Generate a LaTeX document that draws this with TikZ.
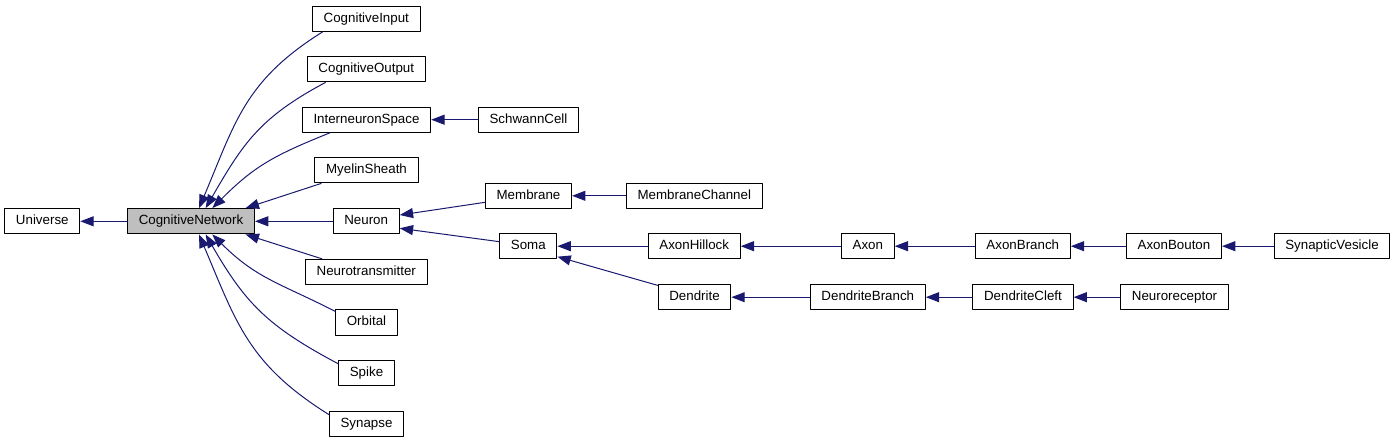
\documentclass[tikz,border=0pt]{standalone}
\usepackage{fontspec}
\setmainfont{Liberation Sans}
\usepackage{xcolor}
\usetikzlibrary{arrows}
\usetikzlibrary{arrows.meta,calc}
\definecolor{edgeblue}{HTML}{191970}
\definecolor{boxgray}{HTML}{BFBFBF}

\begin{document}
\begin{tikzpicture}[line cap=round,line join=round,>={Triangle[length=10pt,width=7.5pt]},x=0.75pt,y=0.75pt,
        box/.style={draw=black,line width=0.75pt,fill=white,minimum height=19pt,inner xsep=8.4pt,inner ysep=0pt,
            text height=7.2pt,text depth=2.1pt,font=\fontsize{10}{12}\selectfont},
        edge/.style={<-,draw=edgeblue,line width=0.75pt}]
                \useasboundingbox (0,0) rectangle (1397,443);
                % classes
                \node [box] (un) at (42.3,221.7) {Universe};
                \node [box,fill=boxgray] (cn) at (191,221.7) {CognitiveNetwork};
                \node [box] (ci) at (366.3,424.3) {CognitiveInput};
                \node [box] (co) at (366.3,373.7) {CognitiveOutput};
                \node [box] (is) at (366.5,323.3) {InterneuronSpace};
                \node [box] (ms) at (366.5,272.7) {MyelinSheath};
                \node [box] (ne) at (366.2,221.7) {Neuron};
                \node [box] (nt) at (366.3,171) {Neurotransmitter};
                \node [box] (or) at (366.5,120.5) {Orbital};
                \node [box] (sp) at (366.5,69.7) {Spike};
                \node [box] (sy) at (366.5,19) {Synapse};
                \node [box] (sc) at (528.5,323.3) {SchwannCell};
                \node [box] (me) at (528.5,247.2) {Membrane};
                \node [box] (mc) at (694.3,247.2) {MembraneChannel};
                \node [box] (so) at (528.3,196.8) {Soma};
                \node [box] (ah) at (694.2,196.8) {AxonHillock};
                \node [box] (de) at (694.5,145.8) {Dendrite};
                \node [box] (ax) at (867.8,196.8) {Axon};
                \node [box] (db) at (867.8,145.8) {DendriteBranch};
                \node [box] (ab) at (1022.8,196.8) {AxonBranch};
                \node [box] (dc) at (1023,145.8) {DendriteCleft};
                \node [box] (abo) at (1174,196.8) {AxonBouton};
                \node [box] (nr) at (1174.5,145.8) {Neuroreceptor};
                \node [box] (sv) at (1332,196.8) {SynapticVesicle};
                % inheritance
                \draw [edge] (un.east) -- (cn.west);
                \draw [edge] ([xshift=6pt]cn.north) to[out=67,in=212,looseness=1.1] ([xshift=8pt]ci.south west);
                \draw [edge] ([xshift=11pt]cn.north) to[out=60,in=208,looseness=1.1] ([xshift=14pt]co.south west);
                \draw [edge] ([xshift=16pt]cn.north) to[out=45,in=202,looseness=1.1] ([xshift=21pt]is.south west);
                \draw [edge] ([xshift=-7pt]cn.north east) -- ([xshift=5pt]ms.south west);
                \draw [edge] (cn.east) -- (ne.west);
                \draw [edge] ([xshift=-7pt]cn.south east) -- ([xshift=12.75pt]nt.north west);
                \draw [edge] ([xshift=16pt]cn.south) to[out=-45,in=153,looseness=1.1] ([yshift=-1.5pt]or.north west);
                \draw [edge] ([xshift=11pt]cn.south) to[out=-60,in=152,looseness=1.1] ([yshift=-2.7pt]sp.north west);
                \draw [edge] ([xshift=6pt]cn.south) to[out=-67,in=148,looseness=1.1] ([yshift=-2.8pt]sy.north west);
                \draw [edge] (is.east) -- (sc.west);
                \draw [edge] ([yshift=4.7pt]ne.east) -- ([yshift=-4.9pt]me.west);
                \draw [edge] ([yshift=-5.25pt]ne.east) -- ([yshift=3.4pt]so.west);
                \draw [edge] (me.east) -- (mc.west);
                \draw [edge] (so.east) -- (ah.west);
                \draw [edge] ([yshift=2pt]so.south east) -- ([yshift=-1pt]de.north west);
                \draw [edge] (ah.east) -- (ax.west);
                \draw [edge] (ax.east) -- (ab.west);
                \draw [edge] (ab.east) -- (abo.west);
                \draw [edge] (abo.east) -- (sv.west);
                \draw [edge] (de.east) -- (db.west);
                \draw [edge] (db.east) -- (dc.west);
                \draw [edge] (dc.east) -- (nr.west);
            \end{tikzpicture}
\end{document}
